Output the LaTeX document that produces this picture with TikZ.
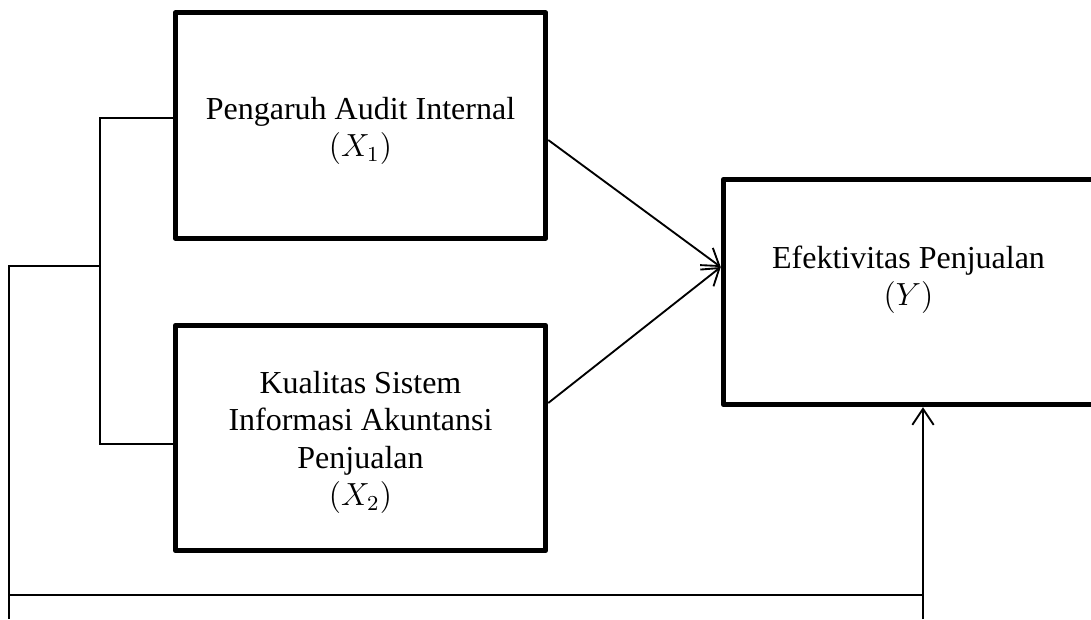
\documentclass[tikz,border=0pt]{standalone}
\usepackage{fontspec}
\setmainfont{Liberation Serif}
\usetikzlibrary{arrows.meta,calc}
\begin{document}
\begin{tikzpicture}[x=0.375pt,y=-0.375pt,
  varbox/.style={draw,line width=1.8pt,line join=round,rectangle,minimum width=139pt,minimum height=84.6pt,inner sep=0pt},
  label/.style={align=center,font=\fontsize{12}{14}\selectfont,inner sep=0pt},
  conn/.style={line width=0.7pt},
  arr/.style={conn,-{Straight Barb[length=6pt,width=8pt,line width=0.7pt]}}]
\useasboundingbox (0,0) rectangle (1091,619);
\clip (0,0) rectangle (1091,619);
\node[varbox] (b1) at (360.5,125.5) {};
\node[varbox] (b2) at (360.5,438) {};
\node[varbox] (bY) at (908.5,292) {};
\node[label] (t1) at (360.5,131) {Pengaruh Audit Internal\\$(X_1)$};
\node[label] (t2) at (360.5,442.5) {Kualitas Sistem\\Informasi Akuntansi\\Penjualan\\$(X_2)$};
\node[label] (tY) at (908.5,280) {Efektivitas Penjualan\\$(Y)$};
\coordinate (ja) at (100,118);
\coordinate (jb) at (100,444);
\coordinate (jm) at (100,266);
\coordinate (la) at (9,266);
\coordinate (lb) at (9,619);
\coordinate (lc) at (9,595);
\coordinate (ra) at (923,595);
\coordinate (rb) at (923,619);
\draw[arr] (b1.east |- 0,140) -- (bY.west |- 0,267);
\draw[arr] (b2.east |- 0,403) -- (bY.west |- 0,267);
\draw[conn] (b1.west |- ja) -- (ja) -- (jb) -- (b2.west |- jb);
\draw[conn] (jm) -- (la) -- (lb);
\draw[conn] (lc) -- (ra);
\draw[arr] (rb) -- (bY.south -| rb);
\end{tikzpicture}
\end{document}
